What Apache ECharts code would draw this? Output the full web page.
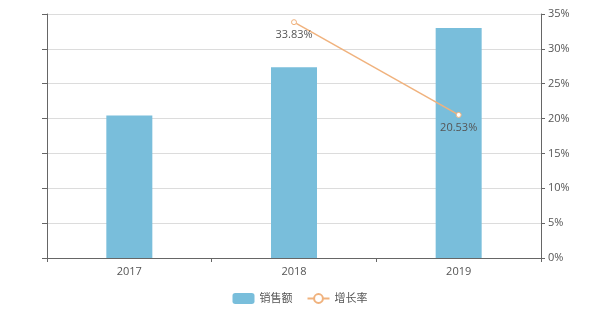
<!DOCTYPE html>
<html>
<head>
<meta charset="utf-8">
<script src="https://cdn.jsdelivr.net/npm/echarts@6/dist/echarts.min.js"></script>
<style>
html,body{margin:0;padding:0;background:#fff;}
#chart{width:600px;height:315px;}
</style>
</head>
<body>
<div id="chart"></div>
<script>
const categories = ['2017', '2018', '2019'];
const salesValues = [4.09, 5.47, 6.60];
const growthValues = [null, 33.83, 20.53];
const rightTickLabels = ['0%', '5%', '10%', '15%', '20%', '25%', '30%', '35%'];

const chart = echarts.init(document.getElementById('chart'));
const font = '"Open Sans", "Noto Sans CJK SC", sans-serif';
chart.setOption({
  animation: false,
  textStyle: { fontFamily: font },
  grid: { left: 47, right: 59, top: 14, bottom: 57, containLabel: false },
  legend: {
    bottom: 6,
    left: 'center',
    itemWidth: 22,
    itemHeight: 11,
    itemGap: 14,
    textStyle: { fontSize: 11, color: '#555', fontFamily: font },
    data: [
      { name: '销售额', icon: 'roundRect' },
      { name: '增长率' }
    ]
  },
  xAxis: {
    type: 'category',
    data: categories,
    boundaryGap: true,
    axisLine: { lineStyle: { color: '#666', width: 1 } },
    axisTick: { show: true, length: 4, lineStyle: { color: '#666' } },
    axisLabel: { color: '#555', fontSize: 11, margin: 8, fontFamily: font }
  },
  yAxis: [
    {
      type: 'value',
      min: 0, max: 7, interval: 1,
      axisLine: { show: true, lineStyle: { color: '#666' } },
      axisTick: { show: true, length: 5, lineStyle: { color: '#666' } },
      axisLabel: { show: false },
      splitLine: { show: true, lineStyle: { color: '#dcdcdc' } }
    },
    {
      type: 'value',
      min: 0, max: 35, interval: 5,
      position: 'right',
      axisLine: { show: true, lineStyle: { color: '#666' } },
      axisTick: { show: true, length: 4, lineStyle: { color: '#666' } },
      axisLabel: {
        color: '#555', fontSize: 11, margin: 7, fontFamily: font,
        formatter: function (v) { return rightTickLabels[Math.round(v / 5)]; }
      },
      splitLine: { show: false }
    }
  ],
  series: [
    {
      name: '销售额',
      type: 'bar',
      yAxisIndex: 0,
      data: salesValues,
      barWidth: 46,
      itemStyle: { color: '#79bedb' }
    },
    {
      name: '增长率',
      type: 'line',
      yAxisIndex: 1,
      data: growthValues,
      symbol: 'circle',
      symbolSize: 5,
      lineStyle: { color: '#f0b27d', width: 1.5 },
      itemStyle: { color: '#fff', borderColor: '#f0b27d', borderWidth: 1 },
      label: {
        show: true,
        position: 'bottom',
        distance: 4,
        color: '#555',
        fontSize: 11,
        fontFamily: font,
        formatter: function (p) { return p.value.toFixed(2) + '%'; }
      }
    }
  ]
});
</script>
</body>
</html>
